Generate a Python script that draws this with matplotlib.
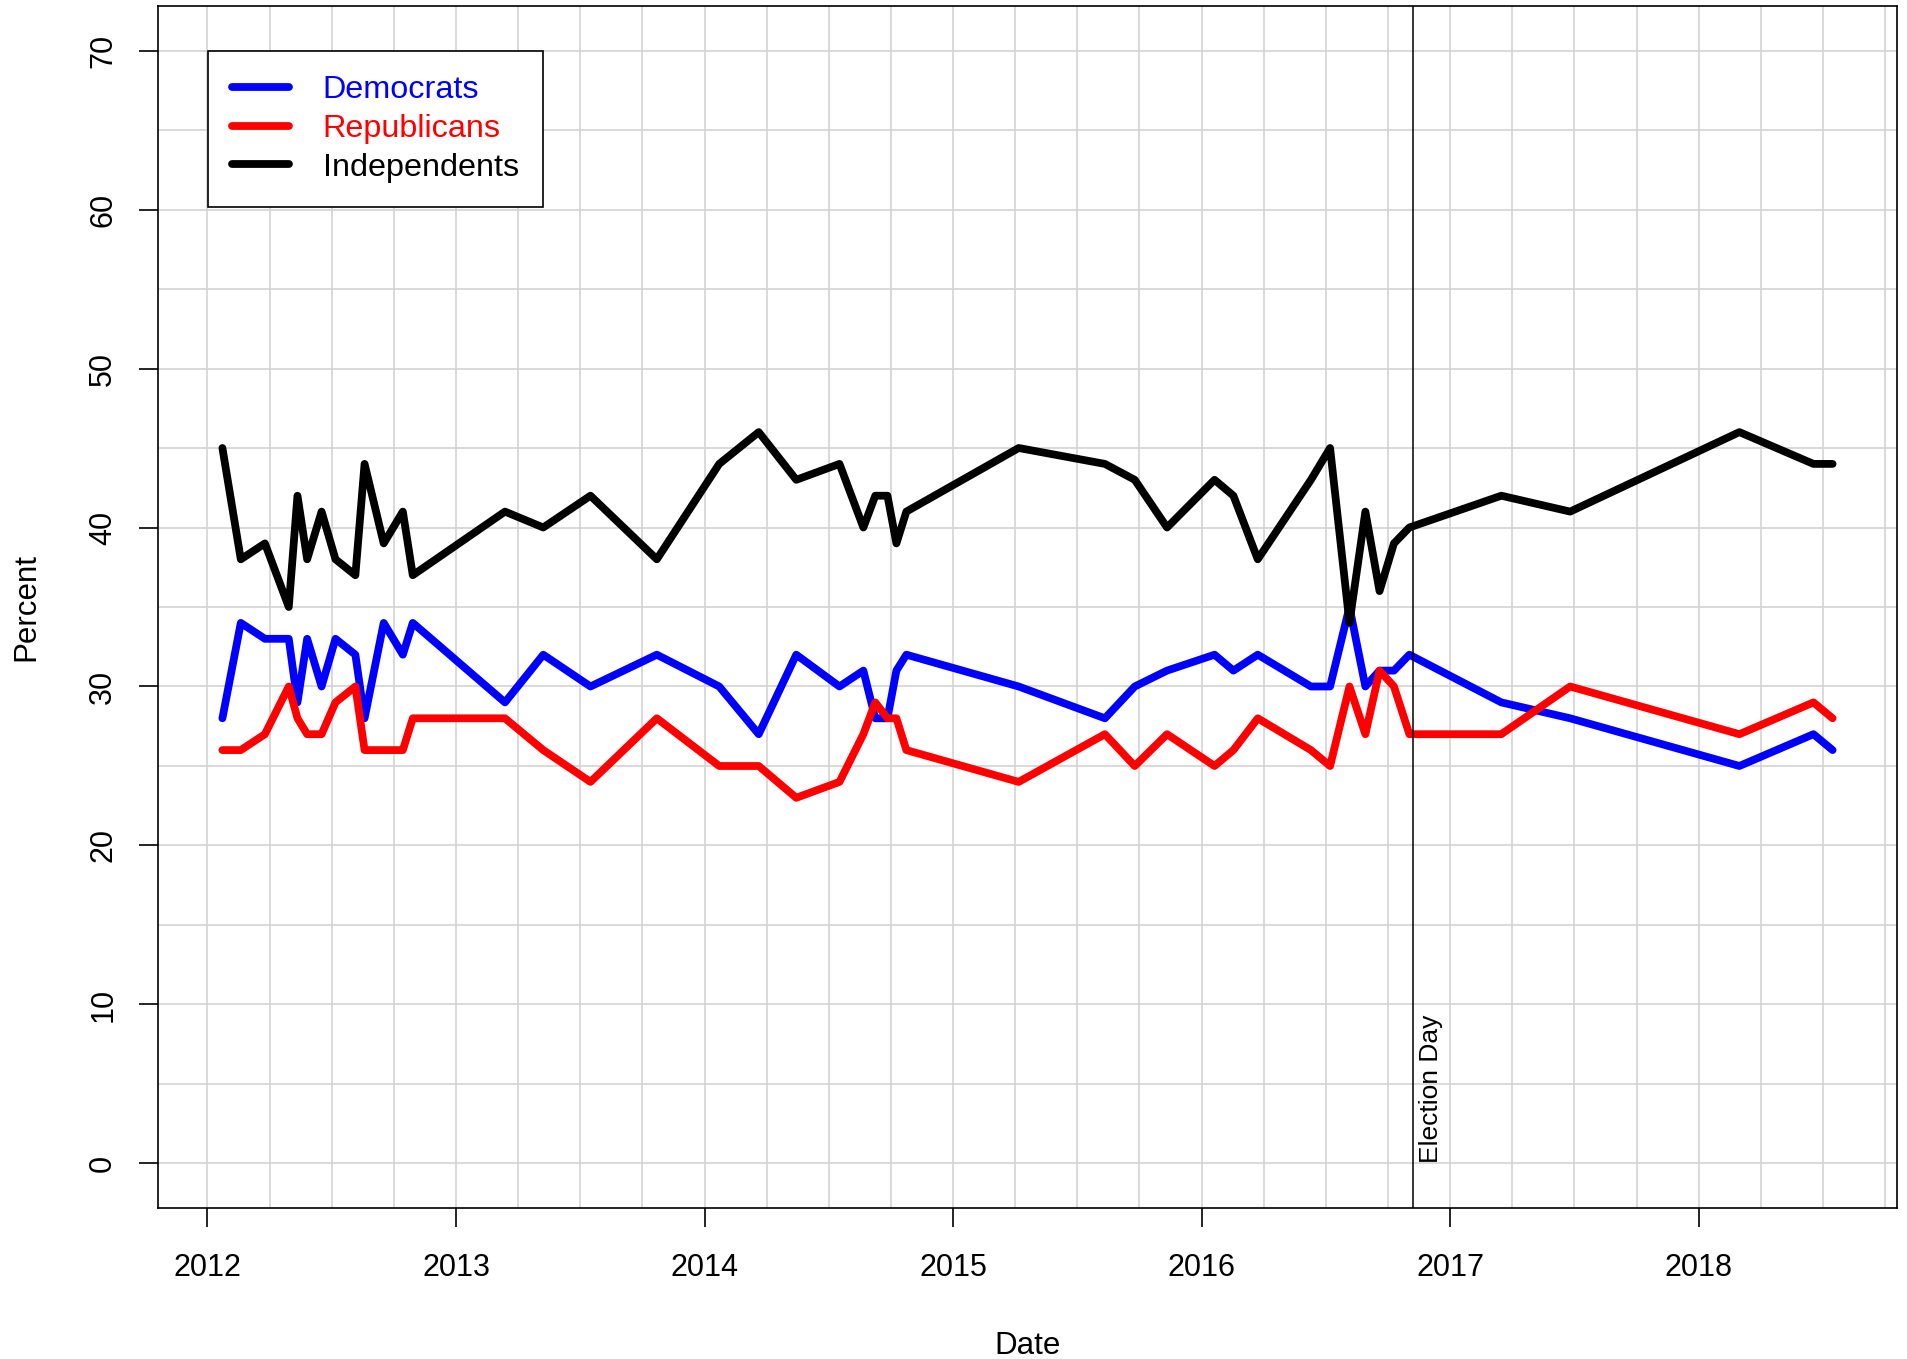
import matplotlib
matplotlib.use('Agg')
import matplotlib.pyplot as plt
from matplotlib.ticker import MultipleLocator

plt.rcParams['font.family'] = ['Liberation Sans', 'DejaVu Sans']

# poll dates as decimal years
dates = [2012.060, 2012.134, 2012.231, 2012.327, 2012.362, 2012.401, 2012.459,
         2012.515, 2012.595, 2012.632, 2012.709, 2012.786, 2012.826, 2013.197,
         2013.351, 2013.541, 2013.808, 2014.059, 2014.218, 2014.369, 2014.543,
         2014.639, 2014.687, 2014.736, 2014.772, 2014.812, 2015.264, 2015.611,
         2015.731, 2015.861, 2016.052, 2016.128, 2016.226, 2016.440, 2016.517,
         2016.595, 2016.659, 2016.716, 2016.774, 2016.836, 2017.206, 2017.483,
         2018.164, 2018.462, 2018.539]
democrats = [28, 34, 33, 33, 29, 33, 30, 33, 32, 28, 34, 32, 34, 29, 32, 30, 32,
             30, 27, 32, 30, 31, 28, 28, 31, 32, 30, 28, 30, 31, 32, 31, 32, 30,
             30, 35, 30, 31, 31, 32, 29, 28, 25, 27, 26]
republicans = [26, 26, 27, 30, 28, 27, 27, 29, 30, 26, 26, 26, 28, 28, 26, 24, 28,
               25, 25, 23, 24, 27, 29, 28, 28, 26, 24, 27, 25, 27, 25, 26, 28, 26,
               25, 30, 27, 31, 30, 27, 27, 30, 27, 29, 28]
independents = [45, 38, 39, 35, 42, 38, 41, 38, 37, 44, 39, 41, 37, 41, 40, 42, 38,
                44, 46, 43, 44, 40, 42, 42, 39, 41, 45, 44, 43, 40, 43, 42, 38, 43,
                45, 34, 41, 36, 39, 40, 42, 41, 46, 44, 44]
election_day = 2016.852

series = [('Democrats', democrats, 'blue'),
          ('Republicans', republicans, 'red'),
          ('Independents', independents, 'black')]


def main():
    W, H = 1907, 1359
    fig = plt.figure(figsize=(W / 100, H / 100), dpi=100)
    ax = fig.add_axes([158 / W, (H - 1208) / H, (1897 - 158) / W, (1208 - 6) / H])

    # R style 4% padding around the data range
    lo, hi = min(dates), max(dates)
    pad = 0.04 * (hi - lo)
    ax.set_xlim(lo - pad, hi + pad)
    ax.set_ylim(0 - 2.8, 70 + 2.8)

    for name, vals, col in series:
        ax.plot(dates, vals, color=col, lw=5.6, label=name,
                solid_joinstyle='round', solid_capstyle='round')

    ax.axvline(election_day, color='black', lw=1.1)
    ax.annotate('Election Day', (election_day, 0), xytext=(4, 0),
                textcoords='offset points', rotation=90,
                ha='left', va='bottom', fontsize=19)

    # grid every quarter year and every 5 percent
    ax.set_xticks(range(2012, 2019))
    ax.set_yticks(range(0, 71, 10))
    ax.xaxis.set_minor_locator(MultipleLocator(0.25))
    ax.yaxis.set_minor_locator(MultipleLocator(5))
    ax.grid(which='both', color='lightgray', lw=1.2)
    ax.set_axisbelow(True)
    ax.tick_params(which='minor', length=0)
    ax.tick_params(which='major', length=13.7, width=1.2, labelsize=22, pad=19)
    ax.tick_params(axis='y', labelrotation=90, pad=15)
    for lab in ax.get_yticklabels():
        lab.set_va('center')
    for s in ax.spines.values():
        s.set_linewidth(1.2)

    ax.set_xlabel('Date', fontsize=22.5, labelpad=34)
    ax.set_ylabel('Percent', fontsize=22.5, labelpad=34)

    leg = ax.legend(loc='upper left', bbox_to_anchor=(0.0286, 0.9626),
                    borderaxespad=0, fontsize=23.3, fancybox=False,
                    edgecolor='black', framealpha=1, handlelength=1.75,
                    handletextpad=1.05, borderpad=0.75, labelspacing=0.27,
                    labelcolor='linecolor')
    leg.get_frame().set_linewidth(1.2)

    fig.savefig('out.png', dpi=100)


if __name__ == '__main__':
    plt.close('all')
    main()
